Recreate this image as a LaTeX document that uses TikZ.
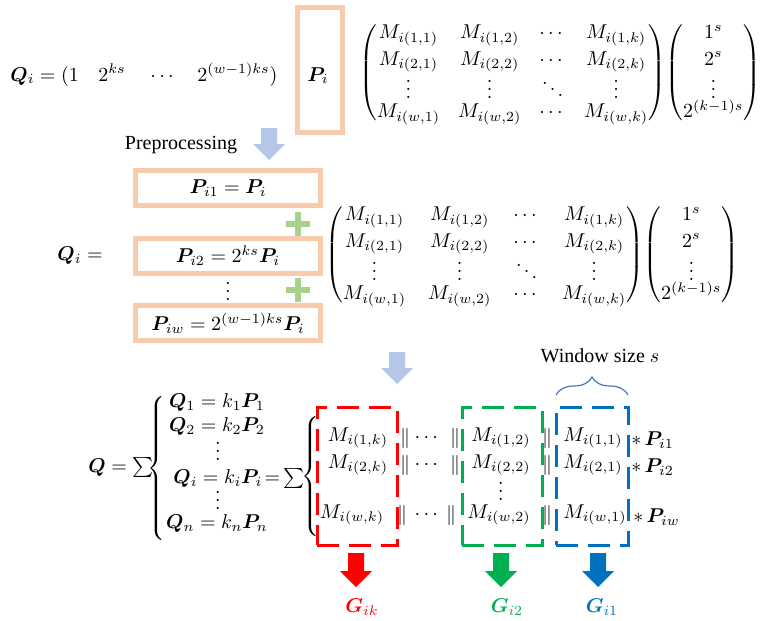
\documentclass[tikz,border=0pt]{standalone}
\usepackage{amsmath,bm}
\usepackage[no-math]{fontspec}
\newfontfamily\tnr{Liberation Serif}
\usetikzlibrary{decorations.pathreplacing}
\definecolor{peach}{RGB}{248,203,173}
\definecolor{lblue}{RGB}{180,199,231}
\definecolor{lgreen}{RGB}{169,209,142}
\definecolor{ored}{RGB}{255,0,0}
\definecolor{ogreen}{RGB}{0,176,80}
\definecolor{oblue}{RGB}{0,112,192}
\definecolor{bracecol}{RGB}{68,114,196}
\newcommand\myvd{\smash{\raisebox{-3.5pt}{$\vdots$}}}
\newcommand\mydd{\smash{\raisebox{-3.5pt}{$\ddots$}}}
\newcommand\mymatM{\begin{pmatrix}
M_{i(1,1)} & M_{i(1,2)} & \cdots & M_{i(1,k)}\\
M_{i(2,1)} & M_{i(2,2)} & \cdots & M_{i(2,k)}\\
\myvd & \myvd & \mydd & \myvd\\
M_{i(w,1)} & M_{i(w,2)} & \cdots & M_{i(w,k)}
\end{pmatrix}\!\begin{pmatrix}1^s\\2^s\\\myvd\\2^{(k-1)s}\end{pmatrix}}
\newcommand\blockarrow[4]{%
  \fill[#1] (#2-8,#3) -- (#2+8,#3) -- (#2+8,#4-16) -- (#2+16,#4-16) -- (#2,#4) -- (#2-16,#4-16) -- (#2-8,#4-16) -- cycle;}
\begin{document}
\begin{tikzpicture}[x=0.5pt,y=-0.5pt,
  txt/.style={inner sep=0pt, font=\normalsize},
  vd/.style={inner sep=0pt, anchor=south},
  pbox/.style={draw=peach, line width=2.5pt, minimum width=92.5pt, minimum height=17.5pt, inner sep=0pt},
  dbox/.style={line width=1.5pt, dash pattern=on 11pt off 5pt, minimum width=40pt, minimum height=69pt, inner sep=0pt},
  plusline/.style={draw=lgreen, line width=3pt},
  arraysetupA/.style={font=\setlength{\arraycolsep}{4.5pt}\renewcommand{\arraystretch}{1.1}},
  arraysetupB/.style={font=\setlength{\arraycolsep}{5.5pt}\renewcommand{\arraystretch}{1.1}}]
\useasboundingbox (0,0) rectangle (766,621);
% ---------- top row ----------
\node[txt, anchor=base west] (qtop) at (10,81) {$\bm{Q}_i = (1$};
\node[txt, anchor=base west] (qtop2) at (98,81) {$2^{ks}$};
\node[txt, anchor=base west] (qtop3) at (150,81) {$\cdots$};
\node[txt, anchor=base west] (qtop4) at (197,81) {$2^{(w-1)ks})$};
\node[draw=peach, line width=2.5pt, minimum width=22.5pt, minimum height=62.5pt, inner sep=0pt] (pibox) at (320,70) {};
\node[txt, anchor=base] (pi) at (318,81) {$\bm{P}_i$};
\node[txt, arraysetupA, anchor=west] (mat1) at (359,73) {$\mymatM$};
% ---------- preprocessing ----------
\node[txt, font=\tnr] (prep) at (181,145) {Preprocessing};
\blockarrow{lblue}{269}{128}{160}
\node[pbox] (b1) at (228,188) {$\bm{P}_{i1} = \bm{P}_i$};
\node[pbox] (b2) at (228,256) {$\bm{P}_{i2} = 2^{ks}\bm{P}_i$};
\node[pbox] (b3) at (228,323) {$\bm{P}_{iw} = 2^{(w-1)ks}\bm{P}_i$};
\node[vd] (vd1) at (228,301) {$\vdots$};
\path[plusline] (286,224) -- (310,224) (298,212) -- (298,236);
\path[plusline] (286,290) -- (310,290) (298,278) -- (298,302);
\node[txt] (qi2) at (80,256) {$\bm{Q}_i =$};
\node[txt, arraysetupB, anchor=west] (mat2) at (325,255) {$\mymatM$};
% ---------- bottom ----------
\blockarrow{lblue}{397}{352}{384}
\node[txt, font=\tnr] (win) at (600,356) {Window size $s$};
\draw[bracecol, line width=0.6pt, decorate, decoration={brace, amplitude=9pt}] (556,395) -- (628,395);
\node[txt, anchor=west] (qsum) at (88,467) {$\bm{Q} = \textstyle\sum$};
\node[txt] (bigbrace) at (158,466) {$\left\{\rule{0pt}{41pt}\right.$};
\node[txt] (r1) at (217,402) {$\bm{Q}_1 = k_1\bm{P}_1$};
\node[txt] (r2) at (217,426) {$\bm{Q}_2 = k_2\bm{P}_2$};
\node[vd] (vd2) at (218,461) {$\vdots$};
\node[txt, anchor=west] (ri) at (173,478) {$\bm{Q}_i = k_i\bm{P}_i\!=$};
\node[txt] (risum) at (294,478) {$\textstyle\sum$};
\node[vd] (vd3) at (218,510) {$\vdots$};
\node[txt] (rn) at (217,523) {$\bm{Q}_n = k_n\bm{P}_n$};
\node[txt] (smallbrace) at (312,476) {$\left\{\rule{0pt}{33pt}\right.$};
\node[dbox, draw=ored] (redbox) at (357,476) {};
\node[dbox, draw=ogreen] (greenbox) at (502,476) {};
\node[dbox, draw=oblue, minimum width=36pt] (bluebox) at (592,476) {};
% rows
\node[txt] (a1) at (358,438) {$M_{i(1,k)}$};
\node[txt] (a2) at (358,465) {$M_{i(2,k)}$};
\node[txt] (a3) at (352,515) {$M_{i(w,k)}$};
\foreach \y in {438,465} {
  \node[txt] at (405,\y) {$\|$};
  \node[txt] at (428,\y) {$\cdots$};
  \node[txt] at (455,\y) {$\|$};
  \node[txt] at (547,\y) {$\|$};
}
\node[txt] at (402,515) {$\|$};
\node[txt] at (428,515) {$\cdots$};
\node[txt] at (451,515) {$\|$};
\node[txt] at (547,515) {$\|$};
\node[txt] (g1) at (501,438) {$M_{i(1,2)}$};
\node[txt] (g2) at (501,465) {$M_{i(2,2)}$};
\node[vd] (gv) at (501,501) {$\vdots$};
\node[txt] (g3) at (499,515) {$M_{i(w,2)}$};
\node[txt] (c1) at (593,438) {$M_{i(1,1)}$};
\node[txt] (c2) at (593,465) {$M_{i(2,1)}$};
\node[txt] (c3) at (595,515) {$M_{i(w,1)}$};
\node[txt, anchor=west] (p1) at (631,440) {$*\,\bm{P}_{i1}$};
\node[txt, anchor=west] (p2) at (631,467) {$*\,\bm{P}_{i2}$};
\node[txt, anchor=west] (p3) at (633,517) {$*\,\bm{P}_{iw}$};
% output arrows
\blockarrow{ored}{356}{553}{587}
\blockarrow{ogreen}{501}{553}{587}
\blockarrow{oblue}{598}{553}{587}
\node[txt, text=ored] (gk) at (362,607) {$\bm{G}_{ik}$};
\node[txt, text=ogreen] (g2l) at (507,607) {$\bm{G}_{i2}$};
\node[txt, text=oblue] (g1l) at (602,607) {$\bm{G}_{i1}$};
\end{tikzpicture}
\end{document}
